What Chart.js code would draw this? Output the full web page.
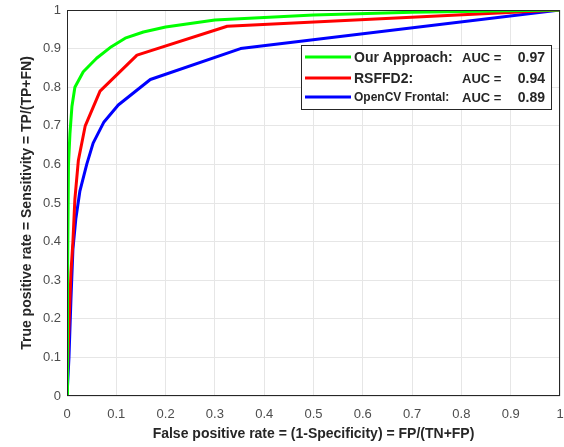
<!doctype html>
<html lang="en">
<head>
<meta charset="utf-8">
<title>ROC curves</title>
<script src="https://cdn.jsdelivr.net/npm/chart.js@4.4.1/dist/chart.umd.min.js"></script>
<style>
  html, body { margin: 0; padding: 0; background: #fff; }
  #wrap { width: 564px; height: 447px; position: relative; }
</style>
</head>
<body>
<div id="wrap"><canvas id="roc"></canvas></div>
<script>
// ROC points (x = false positive rate, y = true positive rate)
var oursX  = [0, 0.001, 0.003, 0.006, 0.010, 0.016, 0.033, 0.060, 0.090, 0.118, 0.155, 0.200, 0.300, 0.500, 0.700, 1];
var oursY  = [0, 0.30,  0.60,  0.68,  0.75,  0.80,  0.84,  0.875, 0.905, 0.927, 0.943, 0.956, 0.974, 0.987, 0.994, 1];
var rsffdX = [0, 0.003, 0.008, 0.012, 0.016, 0.023, 0.037, 0.067, 0.142, 0.325, 1];
var rsffdY = [0, 0.15,  0.32,  0.40,  0.51,  0.61,  0.70,  0.79,  0.883, 0.958, 1];
var cvX    = [0, 0.004, 0.008, 0.012, 0.018, 0.026, 0.040, 0.053, 0.075, 0.104, 0.169, 0.352, 1];
var cvY    = [0, 0.10,  0.25,  0.38,  0.46,  0.53,  0.60,  0.655, 0.71,  0.754, 0.82,  0.90,  1];

var seriesNames = ["Our Approach:", "RSFFD2:", "OpenCV Frontal:"];
var aucValues   = ["0.97", "0.94", "0.89"];
var tickValues  = [0, 0.1, 0.2, 0.3, 0.4, 0.5, 0.6, 0.7, 0.8, 0.9, 1];

var colors = ["#00ff00", "#ff0000", "#0000ff"];
var FONT = "'Liberation Sans', Arial, sans-serif";

function pts(xs, ys) {
  return xs.map(function (x, i) { return { x: x, y: ys[i] }; });
}

// frame around the plot area + legend box (MATLAB style)
var framePlugin = {
  id: "frame",
  afterDatasetsDraw: function (chart) {
    var ctx = chart.ctx, a = chart.chartArea;
    ctx.save();
    ctx.strokeStyle = "#262626";
    ctx.lineWidth = 1;
    ctx.strokeRect(a.left + 0.5, a.top + 0.5, a.right - a.left - 1, a.bottom - a.top - 1);

    // legend
    var bx = a.right - 259, by = a.top + 35, bw = 250, bh = 64;
    ctx.fillStyle = "#fff";
    ctx.fillRect(bx, by, bw, bh);
    ctx.strokeStyle = "#262626";
    ctx.strokeRect(bx + 0.5, by + 0.5, bw, bh);
    var rows = [by + 12, by + 33, by + 52];
    ctx.textBaseline = "middle";
    for (var i = 0; i < 3; i++) {
      ctx.strokeStyle = colors[i];
      ctx.lineWidth = 3;
      ctx.beginPath();
      ctx.moveTo(bx + 4, rows[i]);
      ctx.lineTo(bx + 50, rows[i]);
      ctx.stroke();
      ctx.fillStyle = "#262626";
      ctx.textAlign = "left";
      ctx.font = "bold " + (i === 2 ? 12 : 14) + "px " + FONT;
      ctx.fillText(seriesNames[i], bx + 53, rows[i] + 1);
      ctx.font = "bold 13px " + FONT;
      ctx.fillText("AUC =", bx + 161, rows[i] + 1);
      ctx.font = "bold 14px " + FONT;
      ctx.textAlign = "right";
      ctx.fillText(aucValues[i], bx + 244, rows[i] + 1);
    }
    ctx.restore();
  }
};

function fmt(v) { return String(parseFloat(v.toFixed(1))); }

new Chart("roc", {
  type: "line",
  data: {
    datasets: [
      { label: seriesNames[0], data: pts(oursX, oursY), borderColor: colors[0], backgroundColor: colors[0] },
      { label: seriesNames[1], data: pts(rsffdX, rsffdY), borderColor: colors[1], backgroundColor: colors[1] },
      { label: seriesNames[2], data: pts(cvX, cvY), borderColor: colors[2], backgroundColor: colors[2] }
    ]
  },
  options: {
    responsive: true,
    maintainAspectRatio: false,
    animation: false,
    layout: { padding: { top: 10, right: 4, left: 0, bottom: 0 } },
    elements: {
      point: { radius: 0 },
      line: { borderWidth: 3, tension: 0, borderCapStyle: "round", borderJoinStyle: "round" }
    },
    plugins: {
      legend: { display: false },
      tooltip: { enabled: false }
    },
    scales: {
      x: {
        type: "linear",
        min: 0, max: 1,
        afterBuildTicks: function (s) { s.ticks = tickValues.map(function (v) { return { value: v }; }); },
        afterFit: function (s) { s.height = 51; s.paddingLeft = 0; s.paddingRight = 0; },
        grid: { color: "#e6e6e6", drawTicks: false },
        border: { display: false },
        ticks: {
          padding: 11,
          color: "#4d4d4d",
          font: { family: FONT, size: 13 },
          maxRotation: 0,
          callback: function (v) { return fmt(v); }
        },
        title: {
          display: true,
          text: "False positive rate = (1-Specificity) = FP/(TN+FP)",
          color: "#262626",
          font: { family: FONT, size: 14, weight: "bold" },
          padding: { top: 1, bottom: 4 }
        }
      },
      y: {
        type: "linear",
        min: 0, max: 1,
        afterBuildTicks: function (s) { s.ticks = tickValues.map(function (v) { return { value: v }; }); },
        afterFit: function (s) { s.width = 67; s.paddingTop = 0; s.paddingBottom = 0; },
        grid: { color: "#e6e6e6", drawTicks: false },
        border: { display: false },
        ticks: {
          padding: 6,
          color: "#4d4d4d",
          font: { family: FONT, size: 13 },
          callback: function (v) { return fmt(v); }
        },
        title: {
          display: true,
          text: "True positive rate = Sensitivity = TP/(TP+FN)",
          color: "#262626",
          font: { family: FONT, size: 14, weight: "bold" },
          padding: { top: 19, bottom: 4 }
        }
      }
    }
  },
  plugins: [framePlugin]
});
</script>
</body>
</html>
